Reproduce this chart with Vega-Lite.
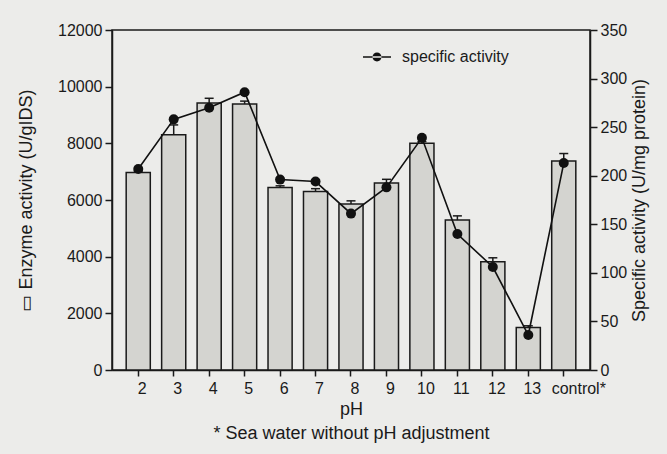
{
  "$schema": "https://vega.github.io/schema/vega-lite/v6.json",
  "width": 478,
  "height": 340,
  "autosize": "none",
  "padding": {"left": 112, "top": 30, "right": 77, "bottom": 84},
  "background": "#ececea",
  "config": {
    "font": "Liberation Sans",
    "view": {"stroke": "#1a1a1a", "strokeWidth": 1.5},
    "axis": {
      "domainColor": "#1a1a1a", "domainWidth": 1.5,
      "tickColor": "#1a1a1a", "tickWidth": 1.5,
      "labelColor": "#1a1a1a", "titleColor": "#1a1a1a",
      "labelFontSize": 16, "titleFontSize": 18, "titleFontWeight": "normal",
      "grid": false
    }
  },
  "data": {
    "values": [
      {"pH": "2", "enz": 6970, "enzHi": 7020, "sa": 207},
      {"pH": "3", "enz": 8300, "enzHi": 8650, "sa": 258},
      {"pH": "4", "enz": 9420, "enzHi": 9590, "sa": 270},
      {"pH": "5", "enz": 9390, "enzHi": 9490, "sa": 286},
      {"pH": "6", "enz": 6440, "enzHi": 6500, "sa": 196},
      {"pH": "7", "enz": 6300, "enzHi": 6400, "sa": 194},
      {"pH": "8", "enz": 5860, "enzHi": 5970, "sa": 161},
      {"pH": "9", "enz": 6600, "enzHi": 6730, "sa": 188},
      {"pH": "10", "enz": 8000, "enzHi": 8060, "sa": 239},
      {"pH": "11", "enz": 5290, "enzHi": 5440, "sa": 140},
      {"pH": "12", "enz": 3820, "enzHi": 3960, "sa": 106},
      {"pH": "13", "enz": 1500, "enzHi": 1560, "sa": 36},
      {"pH": "control*", "enz": 7380, "enzHi": 7640, "sa": 213}
    ]
  },
  "encoding": {
    "x": {
      "field": "pH", "type": "nominal", "sort": null,
      "scale": {"paddingInner": 0.32, "paddingOuter": 0.4},
      "axis": {
        "labelAngle": 0, "tickSize": 6, "labelPadding": 4,
        "labelOffset": {"condition": {"test": "datum.value === 'control*'", "value": 15}, "value": 4},
        "labelOverlap": false,
        "title": ["pH", "* Sea water without pH adjustment"],
        "titleLineHeight": 24, "titlePadding": 4
      }
    }
  },
  "layer": [
    {
      "layer": [
        {
          "mark": {"type": "bar", "fill": "#d4d4d0", "stroke": "#1a1a1a", "strokeWidth": 1.5},
          "encoding": {
            "y": {
              "field": "enz", "type": "quantitative",
              "scale": {"domain": [0, 12000]},
              "axis": {
                "orient": "left", "values": [0, 2000, 4000, 6000, 8000, 10000, 12000],
                "format": "d", "tickSize": 7, "labelPadding": 3,
                "title": "▭ Enzyme activity (U/gIDS)", "titlePadding": 22
              }
            }
          }
        },
        {
          "mark": {"type": "rule", "color": "#1a1a1a", "strokeWidth": 1.5},
          "encoding": {
            "y": {"field": "enz", "type": "quantitative"},
            "y2": {"field": "enzHi"}
          }
        },
        {
          "mark": {"type": "tick", "color": "#1a1a1a", "thickness": 1.5, "size": 9, "opacity": 1},
          "encoding": {
            "y": {"field": "enzHi", "type": "quantitative"}
          }
        }
      ]
    },
    {
      "layer": [
        {
          "mark": {"type": "line", "color": "#111111", "strokeWidth": 1.6},
          "encoding": {
            "y": {
              "field": "sa", "type": "quantitative",
              "scale": {"domain": [0, 350]},
              "axis": {
                "orient": "right", "values": [0, 50, 100, 150, 200, 250, 300, 350],
                "tickSize": 7, "labelPadding": 3,
                "title": "Specific activity (U/mg protein)", "titleAngle": 270,
                "titlePadding": 22
              }
            }
          }
        },
        {
          "mark": {"type": "point", "filled": true, "size": 100, "opacity": 1},
          "encoding": {
            "y": {"field": "sa", "type": "quantitative"},
            "color": {
              "datum": "specific activity",
              "scale": {"range": ["#111111"]},
              "legend": {
                "orient": "none", "legendX": 250, "legendY": 12, "title": null,
                "labelFontSize": 16, "labelColor": "#1a1a1a", "labelOffset": 10,
                "symbolType": "M-1,-0.055H1V0.055H-1Z M-0.32,0A0.32,0.32 0 1 0 0.32,0A0.32,0.32 0 1 0 -0.32,0Z",
                "symbolSize": 784,
                "encode": {
                  "symbols": {
                    "update": {
                      "shape": {"value": "M-1,-0.055H1V0.055H-1Z M-0.32,0A0.32,0.32 0 1 0 0.32,0A0.32,0.32 0 1 0 -0.32,0Z"},
                      "size": {"value": 784},
                      "fill": {"value": "#111111"},
                      "fillOpacity": {"value": 1},
                      "opacity": {"value": 1}
                    }
                  }
                }
              }
            }
          }
        }
      ]
    }
  ],
  "resolve": {"scale": {"y": "independent"}}
}
